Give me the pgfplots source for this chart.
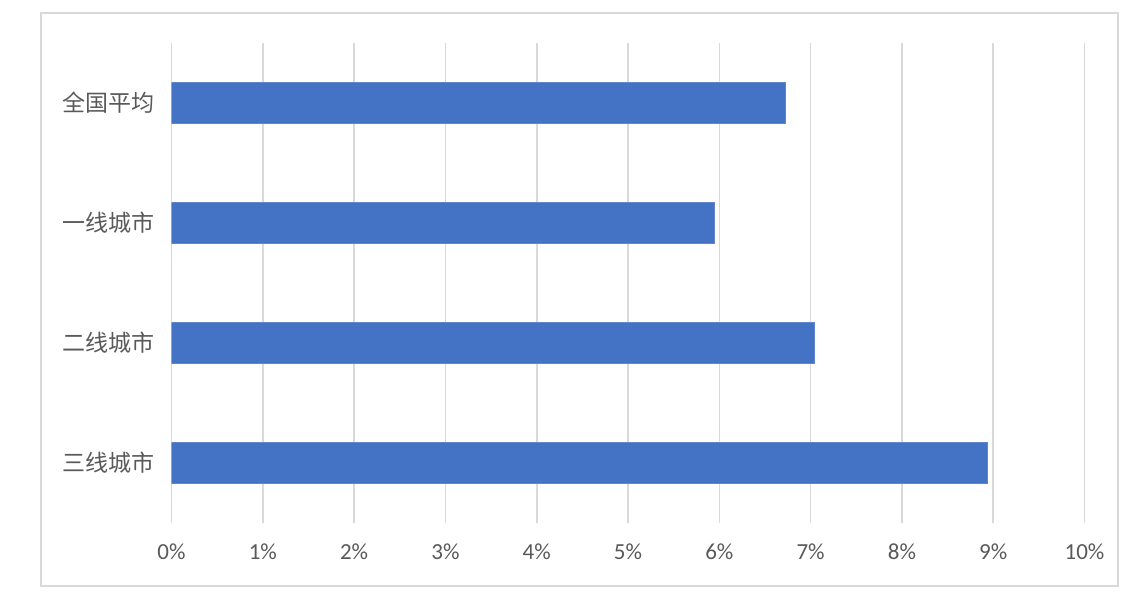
\documentclass[border=0pt]{standalone}
\usepackage{fontspec}
\setmainfont{Carlito}
\newfontfamily\cjk{Noto Sans CJK SC}
\usepackage{pgfplots}
\pgfplotsset{compat=1.18}
\definecolor{barblue}{HTML}{4472C4}
\definecolor{gridgray}{HTML}{D9D9D9}
\definecolor{labelgray}{HTML}{595959}
\begin{document}
\begin{tikzpicture}
% page is 1136x612 px at 0.5pt per px
\path[use as bounding box] (0,0) rectangle (568pt,306pt);
\draw[gridgray, line width=0.8pt] (20.5pt,13pt) rectangle (559pt,299.5pt);
\begin{axis}[
    at={(85.75pt,44.5pt)}, anchor=south west,
    width=456.5pt, height=240pt, scale only axis,
    xbar, bar width=20.5pt,
    xmin=0, xmax=10, ymin=-0.5, ymax=3.5,
    y dir=reverse,
    xtick={0,1,...,10},
    xticklabels={0\%,1\%,2\%,3\%,4\%,5\%,6\%,7\%,8\%,9\%,10\%},
    ytick={0,1,2,3},
    yticklabels={全国平均,一线城市,二线城市,三线城市},
    xmajorgrids, major grid style={gridgray, line width=0.8pt},
    axis line style={draw=none},
    major tick length=0pt,
    tick label style={font=\fontsize{11.5}{13}\selectfont, text=labelgray},
    xticklabel style={anchor=north, inner sep=0pt, yshift=-10pt},
    yticklabel style={anchor=east, inner sep=0pt, xshift=-8.5pt, font=\fontsize{11.5}{13}\selectfont\cjk},
]
\addplot[fill=barblue, draw=barblue!85!white, line width=0.5pt] coordinates {
(6.73,0) (5.95,1) (7.04,2) (8.94,3)
};
\end{axis}
\end{tikzpicture}
\end{document}
